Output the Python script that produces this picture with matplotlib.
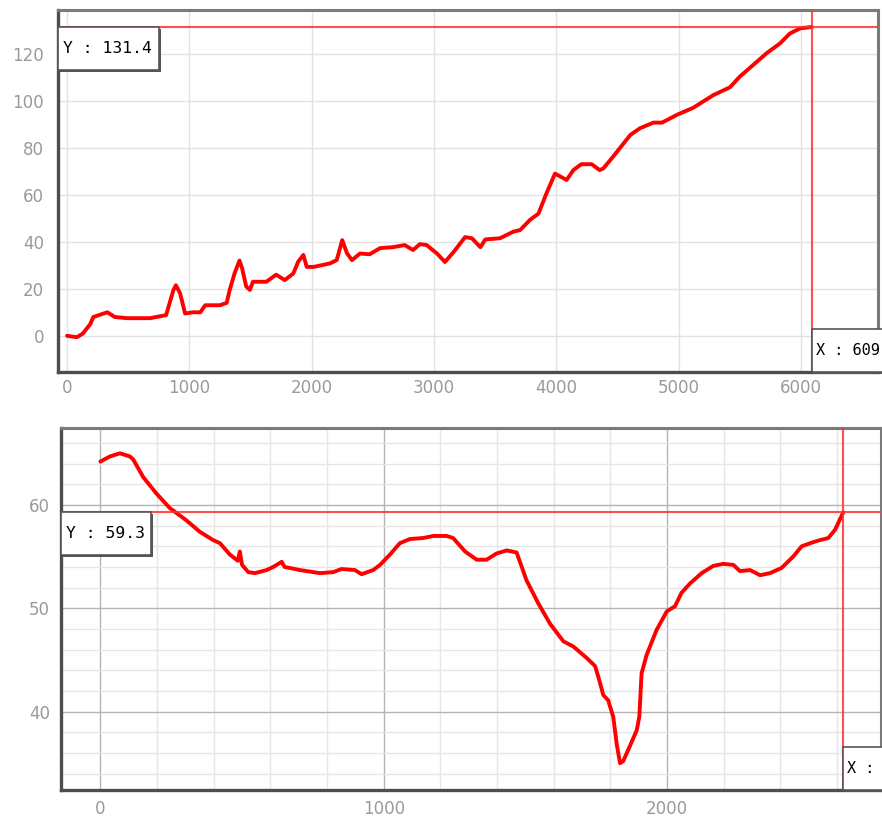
import matplotlib
matplotlib.use('Agg')
import matplotlib.pyplot as plt
from matplotlib.patches import Rectangle
from matplotlib.transforms import IdentityTransform
from matplotlib.ticker import MultipleLocator

# ---------------- data ----------------
top_x = [0, 80, 130, 190, 215, 300, 330, 390, 490, 680, 810, 870, 890, 925, 965, 1030,
         1090, 1130, 1250, 1305, 1330, 1370, 1410, 1430, 1465, 1495, 1520, 1630, 1710,
         1780, 1850, 1890, 1932, 1960, 2015, 2150, 2205, 2250, 2290, 2330, 2395, 2475,
         2560, 2665, 2760, 2830, 2885, 2940, 3025, 3090, 3160, 3255, 3310, 3380, 3420,
         3540, 3650, 3705, 3785, 3855, 3920, 3990, 4085, 4140, 4205, 4290, 4355, 4385,
         4465, 4605, 4685, 4795, 4865, 4987, 5120, 5285, 5420, 5500, 5610, 5720, 5830,
         5910, 5995, 6090]
top_y = [0, -0.6, 1, 5, 8, 9.5, 10, 8, 7.5, 7.5, 8.8, 19.5, 21.5, 18, 9.5, 10,
         10, 13, 13, 14, 19.5, 26.6, 32, 29, 21, 19.5, 23, 23, 26,
         23.7, 26.5, 31.5, 34.4, 29.3, 29.3, 30.8, 32.2, 40.7, 35, 32.2, 35, 34.7,
         37.3, 37.7, 38.6, 36.5, 39, 38.6, 35, 31.4, 35.6, 42, 41.5, 37.7, 41,
         41.5, 44.3, 45, 49.3, 52, 60.6, 69, 66.3, 70.5, 73, 73, 70.5, 71.2,
         76.2, 85.4, 88.3, 90.7, 90.7, 94, 97, 102.4, 105.7, 110.2, 115.2, 120.2, 124.4,
         128.6, 130.8, 131.4]

bot_x = [0, 34, 69, 104, 116, 151, 198, 245, 304, 351, 398, 422, 457, 485, 492, 500,
         522, 545, 587, 610, 640, 650, 669, 704, 775, 822, 851, 898, 922, 963, 987,
         1022, 1057, 1092, 1139, 1175, 1222, 1245, 1287, 1328, 1363, 1398, 1434, 1469,
         1504, 1545, 1587, 1634, 1669, 1716, 1746, 1757, 1775, 1792, 1810, 1822, 1834,
         1845, 1863, 1893, 1902, 1910, 1928, 1963, 1999, 2028, 2051, 2081, 2122, 2163,
         2198, 2234, 2257, 2293, 2328, 2363, 2404, 2445, 2475, 2516, 2540, 2569, 2593,
         2622]
bot_y = [64.2, 64.7, 65.0, 64.7, 64.4, 62.7, 61.1, 59.7, 58.5, 57.4, 56.6, 56.3, 55.2,
         54.6, 55.5, 54.2, 53.5, 53.4, 53.7, 54.0, 54.5, 54.0, 53.9, 53.7, 53.4, 53.5,
         53.8, 53.7, 53.3, 53.7, 54.2, 55.2, 56.3, 56.7, 56.8, 57.0, 57.0, 56.8, 55.5,
         54.7, 54.7, 55.3, 55.6, 55.4, 52.7, 50.5, 48.5, 46.8, 46.3, 45.2, 44.4, 43.4,
         41.6, 41.1, 39.5, 36.9, 35.0, 35.2, 36.3, 38.2, 39.5, 43.7, 45.5, 47.9, 49.7,
         50.2, 51.5, 52.4, 53.4, 54.1, 54.3, 54.2, 53.6, 53.7, 53.2, 53.4, 53.9, 55.0,
         56.0, 56.4, 56.6, 56.8, 57.6, 59.3]

top_cursor_x, top_cursor_y = 6090, 131.4
bot_cursor_x, bot_cursor_y = 2622, 59.3
# cursor read-outs as visible in the reference (cut by the picture's edge there)
top_xlabel, top_ylabel = "X : 609", "Y : 131.4"
bot_xlabel, bot_ylabel = "X :", "Y : 59.3"

# ---------------- figure ----------------
W, H, DPI = 882, 816, 100
fig = plt.figure(figsize=(W / DPI, H / DPI), dpi=DPI)
fig.patch.set_facecolor('white')


def make_axes(x0, y0, x1, y1):
    # pixel coords from top-left
    return fig.add_axes([x0 / W, 1 - y1 / H, (x1 - x0) / W, (y1 - y0) / H])


ax1 = make_axes(58, 10, 878, 372)
ax2 = make_axes(61, 428, 881, 790)

ax1.set_xlim(-74, 6631)
ax1.set_ylim(-15.4, 138.6)
ax2.set_xlim(-139, 2755)
ax2.set_ylim(32.41, 67.45)

for ax in (ax1, ax2):
    for side in ('top', 'right'):
        ax.spines[side].set_color('#7a7a7a')
        ax.spines[side].set_linewidth(2.2)
    for side in ('left', 'bottom'):
        ax.spines[side].set_color('#4d4d4d')
        ax.spines[side].set_linewidth(2.4)
    ax.tick_params(axis='both', which='both', length=0, colors='#9a9a9a', labelsize=12)
    ax.set_axisbelow(True)

ax1.xaxis.set_major_locator(MultipleLocator(1000))
ax1.yaxis.set_major_locator(MultipleLocator(20))
ax1.tick_params(axis='y', pad=10)
ax1.tick_params(axis='x', pad=5)
ax1.grid(True, which='major', color='#e2e2e2', linewidth=1.0)

ax2.xaxis.set_major_locator(MultipleLocator(1000))
ax2.yaxis.set_major_locator(MultipleLocator(10))
ax2.xaxis.set_minor_locator(MultipleLocator(200))
ax2.yaxis.set_minor_locator(MultipleLocator(2))
ax2.tick_params(axis='y', pad=8)
ax2.tick_params(axis='x', pad=7)
ax2.grid(True, which='major', color='#b4b4b4', linewidth=1.0)
ax2.grid(True, which='minor', color='#e6e6e6', linewidth=1.0)

ax1.plot(top_x, top_y, color='#ff0000', linewidth=2.8, solid_joinstyle='round',
         solid_capstyle='round', zorder=3)
ax2.plot(bot_x, bot_y, color='#ff0000', linewidth=2.8, solid_joinstyle='round',
         solid_capstyle='round', zorder=3)

fig.canvas.draw()


def cursor(ax, cx, cy, xlab, ylab, ybox_w, box_h=43):
    ax.axvline(cx, color='#ff3030', linewidth=1.5, alpha=0.85, zorder=4)
    ax.axhline(cy, color='#ff3030', linewidth=1.5, alpha=0.85, zorder=4)
    px, py = ax.transData.transform((cx, cy))
    (ax_l, ax_b), (ax_r, ax_t) = ax.transAxes.transform([(0, 0), (1, 1)])
    boxes = [
        (ax_l, py - box_h, ybox_w, box_h, ylab, 5, 11.8),
        (px, ax_b, 110, box_h, xlab, 4, 11.0),
    ]
    for (bx, by, bw, bh, lab, off, fs) in boxes:
        shadow = Rectangle((bx + 2, by - 2), bw, bh, transform=IdentityTransform(),
                           facecolor='#555555', edgecolor='none', zorder=6)
        rect = Rectangle((bx, by), bw, bh, transform=IdentityTransform(),
                         facecolor='white', edgecolor='#555555', linewidth=1.2, zorder=7)
        fig.add_artist(shadow)
        fig.add_artist(rect)
        fig.text(bx + off, by + bh / 2, lab, transform=IdentityTransform(),
                 ha='left', va='center', fontsize=fs, color='#000000',
                 family='DejaVu Sans Mono', zorder=8)


cursor(ax1, top_cursor_x, top_cursor_y, top_xlabel, top_ylabel, 101)
cursor(ax2, bot_cursor_x, bot_cursor_y, bot_xlabel, bot_ylabel, 90)

fig.savefig('out.png', dpi=DPI)
